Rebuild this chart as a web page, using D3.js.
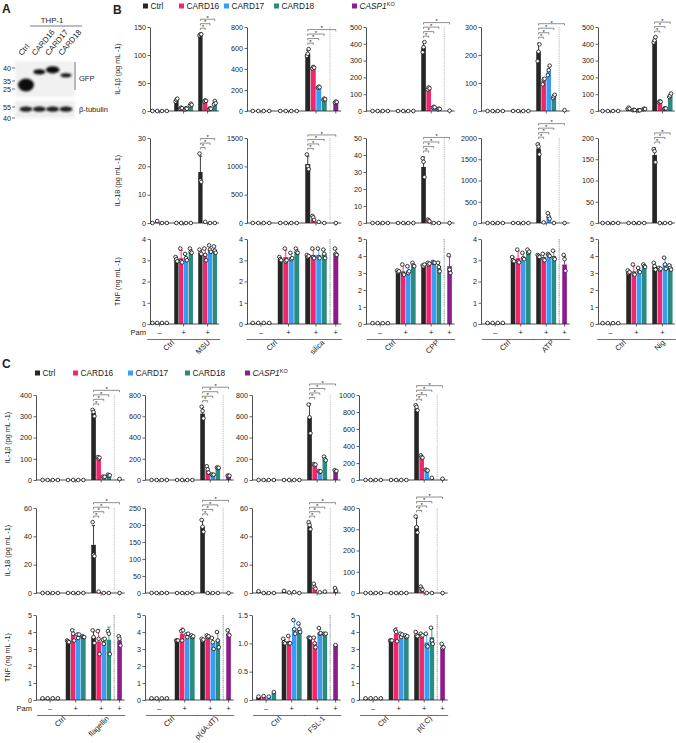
<!DOCTYPE html>
<html><head><meta charset="utf-8">
<script src="https://cdn.jsdelivr.net/npm/d3@7"></script>
<style>
body{margin:0;background:#fff}
svg{display:block}
text{font-family:"Liberation Sans",Arial,Helvetica,sans-serif;fill:#222}
</style>
</head><body>
<svg id="c" width="676" height="743"></svg>
<script>
// ---------------- DATA ----------------
const series = ["Ctrl","CARD16","CARD17","CARD18","CASP1KO"];
const seriesColors = ["#262626","#f2266e","#3a9cf2","#2a8b80","#8c1c8c"];
const groupSigns = ["–","+","+","+"];

// Panel A (western blot)
const blotLanes = ["Ctrl","CARD16","CARD17","CARD18"];
const gfpBandKDa = [30, 38.5, 39.3, 37.2];
const tubBandKDa = [52, 52, 52, 52];
const gfpMarkers = [40, 35, 25];
const tubMarkers = [55, 40];

// Panel B
const bStimuli = ["MSU","silica","CPP","ATP","Nig"];
const bHasKO = [false,true,true,true,false];
const bIL1bTicks = [[0,50,100,150],[0,200,400,600,800],[0,100,200,300,400,500],[0,100,200,300],[0,100,200,300,400,500]];
const bIL18Ticks = [[0,10,20,30],[0,500,1000,1500],[0,10,20,30,40,50],[0,500,1000,1500,2000],[0,50,100,150,200]];
const bTNFTicks = [[0,1,2,3,4],[0,1,2,3,4],[0,1,2,3,4,5],[0,1,2,3,4],[0,1,2,3,4,5]];

const bIL1bMean = [
 [0,0,0,0, 20,5,4,11, 136,18,4,14],
 [0,0,0,0, 0,0,0,0, 545,412,226,112, 85],
 [0,0,0,0, 0,0,0,0, 380,135,22,12, 2],
 [0,0,0,0, 0,0,0,0, 212,108,142,52, 3],
 [0,0,0,0, 15,6,4,12, 420,55,15,90]
];
const bIL1bPts = [
 [[0],[0],[0],[0], [17,20,22],[4,6,5],[3,5,4],[10,13,11], [135,137,137],[17,19,18],[3,5,4],[12,18,14]],
 [[0],[0],[0],[0], [0],[0],[0],[0], [525,545,590],[405,420,412],[222,232,226],[108,118,112],[80,90,85]],
 [[0],[0],[0],[0], [0],[0],[0],[0], [350,380,410],[128,140,135],[20,25,22],[10,14,12],[2]],
 [[0],[0],[0],[0], [0],[0],[0],[0], [178,212,238],[95,112,115],[128,146,162],[46,52,58],[3]],
 [[0],[0],[0],[0], [12,20,14],[5,7,6],[3,5,4],[10,14,12], [408,420,440],[52,58,55],[13,16,15],[84,92,104]]
];
const bIL18Mean = [
 [0,0.5,0,0, 0,0,0,0, 18,0.3,0,0],
 [0,0,0,0, 0,0,0,0, 1040,70,15,0, 0],
 [0,0,0,0, 0,0,0,0, 33,1.5,0,0, 0],
 [0,0,0,0, 0,0,0,0, 1755,15,160,0, 0],
 [0,0,0,0, 0,0,0,0, 160,0,0,0]
];
const bIL18Pts = [
 [[0],[0.7],[0],[0], [0],[0],[0],[0], [24.5,15,14.5],[0.4],[0],[0]],
 [[0],[0],[0],[0], [0],[0],[0],[0], [1210,1000,950],[125,100,55],[20],[0],[0]],
 [[0],[0],[0],[0], [0],[0],[0],[0], [38,36,27],[2,1.5,1],[0],[0],[0]],
 [[0],[0],[0],[0], [0],[0],[0],[0], [1850,1800,1615],[15],[230,150,100],[0],[0]],
 [[0],[0],[0],[0], [0],[0],[0],[0], [174,169,143],[0],[0],[0]]
];
const bTNFMean = [
 [0.05,0.05,0.05,0.05, 3.05,3.1,3.15,3.4, 3.35,3.3,3.5,3.5],
 [0.05,0.05,0.05,0.05, 3.05,3.15,3.15,3.4, 3.2,3.25,3.25,3.3, 3.35],
 [0.05,0.05,0.05,0.05, 3.1,3.1,3.15,3.4, 3.45,3.55,3.6,3.4, 3.4],
 [0.05,0.05,0.05,0.05, 3.05,3.1,3.15,3.4, 3.2,3.15,3.25,3.2, 2.8],
 [0.05,0.05,0.05,0.05, 3.1,3.1,3.15,3.4, 3.4,3.25,3.55,3.35]
];
const bTNFPts = [
 [[0.05],[0.05],[0.05],[0.05], [3.15,3.05,2.95],[3.55,2.95,2.9],[3.3,3.1,3.0],[3.55,3.4,3.35], [3.5,3.35,3.3],[3.55,3.25,3.0],[3.7,3.5,3.4],[3.65,3.45,3.35]],
 [[0.05],[0.05],[0.05],[0.05], [3.15,3.05,3.0],[3.55,2.95,3.0],[3.35,3.05,3.1],[3.55,3.4,3.35], [3.25,3.15,3.2],[3.55,3.15,3.1],[3.55,3.15,3.1],[3.5,3.3,3.1], [3.55,3.3,3.25]],
 [[0.05],[0.05],[0.05],[0.05], [3.15,3.05,3.1],[3.5,2.95,2.9],[3.4,3.0,3.1],[3.6,3.45,3.4], [3.45,3.4,3.5],[3.6,3.5,3.55],[3.65,3.6,3.6],[3.6,3.35,3.1], [4.05,3.2,3.0]],
 [[0.05],[0.05],[0.05],[0.05], [3.15,3.0,2.95],[3.5,2.95,2.9],[3.35,3.1,3.05],[3.5,3.35,3.4], [3.25,3.2,3.15],[3.3,3.05,3.0],[3.3,3.25,3.2],[3.45,3.1,3.05], [3.25,3.05,2.5]],
 [[0.05],[0.05],[0.05],[0.05], [3.15,3.0,3.05],[3.5,2.95,2.9],[3.3,3.1,3.05],[3.5,3.4,3.35], [3.6,3.4,3.2],[3.3,3.2,3.25],[3.9,3.5,3.25],[3.45,3.3,3.2]]
];

// Panel C
const cStimuli = ["flagellin","p(dA:dT)","FSL-1","p(I:C)"];
const cHasKO = [true,true,true,true];
const cIL1bTicks = [[0,100,200,300,400],[0,200,400,600,800],[0,200,400,600,800],[0,200,400,600,800,1000]];
const cIL18Ticks = [[0,20,40,60],[0,50,100,150,200,250],[0,20,40,60],[0,100,200,300,400]];
const cTNFTicks = [[0,1,2,3,4,5],[0,1,2,3,4,5],[0,0.5,1.0,1.5],[0,1,2,3,4,5]];

const cIL1bMean = [
 [0,0,0,0, 0,0,0,0, 315,105,15,22, 5],
 [0,0,0,0, 0,0,0,0, 625,90,50,115, 40],
 [0,0,0,0, 0,0,0,0, 585,145,80,200, 85],
 [0,0,0,0, 0,0,0,0, 840,265,115,25, 15]
];
const cIL1bPts = [
 [[0],[0],[0],[0], [0],[0],[0],[0], [330,320,300],[108,100,105],[16,12,15],[25,20,22],[5]],
 [[0],[0],[0],[0], [0],[0],[0],[0], [690,650,580],[130,100,70],[52,45,50],[118,112,115],[42,36,40]],
 [[0],[0],[0],[0], [0],[0],[0],[0], [710,590,440],[150,140,145],[85,75,80],[220,195,185],[92,80,85]],
 [[0],[0],[0],[0], [0],[0],[0],[0], [880,860,820],[290,270,262],[122,115,112],[25],[15]]
];
const cIL18Mean = [
 [0,0,0,0, 0,0,0,0, 34,1,0,0, 0],
 [0,0,0,0, 0,0,0,0, 195,0,0,0, 0],
 [1,0,0,0, 1.2,0.3,0.5,0, 47,4,0.5,1, 2],
 [0,0,0,0, 0,0,0,0, 315,20,0,0, 0]
];
const cIL18Pts = [
 [[0],[0],[0],[0], [0],[0],[0],[0], [50,27,26],[1],[0],[0],[0]],
 [[0],[0],[0],[0], [0],[0],[0],[0], [215,195,180],[0],[0],[0],[0]],
 [[1.3],[0],[0],[0], [1.5],[0.3],[0.6],[0], [50,48,45],[6.5,4,3],[0.5],[1],[3.5,1.5]],
 [[0],[0],[0],[0], [0],[0],[0],[0], [360,310,285],[30,20,15],[0],[0],[0]]
];
const cTNFMean = [
 [0.1,0.1,0.1,0.1, 3.45,3.85,3.8,3.7, 3.7,3.45,3.5,3.55, 3.5],
 [0.1,0.1,0.1,0.1, 3.5,3.9,3.85,3.75, 3.55,3.75,3.35,3.55, 3.9],
 [0.05,0.06,0.06,0.13, 1.03,1.04,1.27,1.25, 1.1,1.02,1.19,1.17, 0.97],
 [0.1,0.1,0.1,0.1, 3.5,3.9,3.85,3.75, 3.85,3.8,3.4,3.7, 3.1]
];
const cTNFPts = [
 [[0.1],[0.1],[0.1],[0.1], [3.5,3.45,3.4],[4.1,3.9,3.5],[3.85,3.65,3.85],[3.75,3.7,3.7], [4.1,3.7,3.35],[4.05,3.6,2.7],[3.55,3.3,3.6],[4.05,3.9,2.7], [3.75,3.6,3.2]],
 [[0.1],[0.1],[0.1],[0.1], [3.5,3.5,3.5],[4.05,3.5,4.1],[3.85,3.7,3.9],[3.8,3.7,3.75], [3.6,3.5,3.55],[3.8,3.7,3.75],[3.65,3.4,3.0],[4.0,3.5,3.1], [4.1,3.85,3.8]],
 [[0.06],[0.07],[0.06],[0.14], [1.08,1.02,1.0],[1.13,1.0,1.0],[1.41,1.25,1.17],[1.35,1.25,1.2], [1.1,1.1,1.09],[1.1,1.0,0.93],[1.27,1.17,1.18],[1.17,1.16,1.17], [0.97]],
 [[0.1],[0.1],[0.1],[0.1], [3.5,3.5,3.5],[4.1,4.0,3.45],[3.9,3.7,3.85],[3.8,3.7,3.75], [4.0,3.8,3.75],[3.9,3.75,3.8],[3.9,3.2,3.15],[4.25,3.5,3.3], [3.3,3.05,3.1]]
];

const rowTitles = ["IL-1β (pg mL -1)","IL-18 (pg mL -1)","TNF (ng mL -1)"];

// ---------------- LAYOUT ----------------
const svg = d3.select("#c");
const LB = {x0s:[150,247,366,481,598], offs:[0,3,4,4,2], units:[4.8,5.5,5.1,5.1,5.2],
            rows:[[27,111],[138,223],[239,324]], titleX:120, legendY:6, legendXs:[143,179,224,274,352]};
const LC = {x0s:[36,145,252,359], offs:[4,4,4,4], units:[5.1,5.1,5.1,5.1],
            rows:[[395,480],[508,593],[615,700]], titleX:10, legendY:373, legendXs:[35,73,128,185,245]};

function slotU(k){ return k < 12 ? Math.floor(k/4)*5 + k%4 : 15.1; }

function drawPanel(p){
  const g = svg.append("g");
  const x = d3.scaleLinear().domain([0,1]).range([p.x0+p.off, p.x0+p.off+p.unit]);
  const yMax = d3.max(p.ticks);
  const y = d3.scaleLinear().domain([0,yMax]).range([p.yb, p.yt]);
  const bw = p.unit*0.9;
  const endU = p.hasKO ? 16.6 : 14.4;
  const data = p.mean.map((m,k)=>{
    const pts = p.pts[k];
    const sd = pts.length > 1 ? d3.deviation(pts) : 0;
    return {k, m, pts, sd, s: k<12 ? k%4 : 4, u: slotU(k)};
  });
  // separator
  if(p.hasKO){
    g.append("line").attr("x1",x(14.55)).attr("x2",x(14.55))
     .attr("y1",y(yMax)).attr("y2",y(0))
     .attr("stroke","#a8a8a8").attr("stroke-width",p.row===2?1.2:0.8)
     .attr("stroke-dasharray",p.row===2?"1.2,0.6":"1,0.8");
  }
  // bars
  g.selectAll("rect.bar").data(data).join("rect")
   .attr("x",d=>x(d.u)+ (p.unit-bw)/2).attr("width",bw)
   .attr("y",d=>y(d.m)).attr("height",d=>Math.max(0,y(0)-y(d.m)))
   .attr("fill",d=>seriesColors[d.s]);
  // error bars
  const eb = data.filter(d=>d.sd>0);
  g.selectAll("line.eb").data(eb).join("line")
   .attr("x1",d=>x(d.u+0.5)).attr("x2",d=>x(d.u+0.5))
   .attr("y1",d=>y(d.m)).attr("y2",d=>y(d.m+d.sd))
   .attr("stroke",d=>seriesColors[d.s]).attr("stroke-width",0.9);
  g.selectAll("line.cap").data(eb).join("line")
   .attr("x1",d=>x(d.u+0.5)-1.6).attr("x2",d=>x(d.u+0.5)+1.6)
   .attr("y1",d=>y(d.m+d.sd)).attr("y2",d=>y(d.m+d.sd))
   .attr("stroke",d=>seriesColors[d.s]).attr("stroke-width",0.9);
  // points
  const jit = n => n===1?[0]:n===2?[-0.6,0.6]:[-0.9,0,0.9];
  const pd = [];
  data.forEach(d=>{ const j=jit(d.pts.length); d.pts.forEach((v,i)=>pd.push({u:d.u,v,j:j[i]})); });
  // x axis baseline
  g.append("line").attr("x1",p.x0).attr("x2",x(endU)).attr("y1",y(0)).attr("y2",y(0))
   .attr("stroke","#222").attr("stroke-width",0.8);
  const centers = [2,7,12].map(c=>x(c)); if(p.hasKO) centers.push(x(15.6));
  g.selectAll("line.gt").data(centers).join("line")
   .attr("x1",d=>d).attr("x2",d=>d).attr("y1",y(0)).attr("y2",y(0)+2.5)
   .attr("stroke","#222").attr("stroke-width",0.7);
  g.selectAll("circle").data(pd).join("circle")
   .attr("cx",d=>x(d.u+0.5)+d.j).attr("cy",d=>y(d.v)).attr("r",1.8)
   .attr("fill","#fff").attr("stroke","#1a1a1a").attr("stroke-width",0.85);
  // y axis
  const nonInt = p.ticks.some(t=>!Number.isInteger(t));
  const ax = d3.axisLeft(y).tickValues(p.ticks).tickSize(2.5).tickSizeOuter(0).tickPadding(1.5)
     .tickFormat(d=> d===0 ? "0" : (nonInt ? d3.format(".1f")(d) : String(d)));
  const ag = g.append("g").attr("transform",`translate(${p.x0},0)`).call(ax);
  ag.select(".domain").attr("stroke","#222").attr("stroke-width",0.8);
  ag.selectAll(".tick line").attr("stroke","#222").attr("stroke-width",0.7);
  ag.selectAll(".tick text").attr("font-size",7.2).attr("fill","#222")
    .attr("font-family","'Liberation Sans',Arial,sans-serif");
  // significance brackets
  if(p.row < 2){
    const tgt = p.hasKO ? [9,10,11,12] : [9,10,11];
    const sub = data.filter(d=>d.k>=8);
    const top = d3.max(sub, d=>Math.max(d.m+d.sd, d3.max(d.pts)));
    const base = y(top) - 6;
    tgt.forEach((k,j)=>{
      const yy = base - j*4.5;
      const x1 = x(slotU(8)+0.5), x2 = x(slotU(k)+0.5);
      g.append("path").attr("d",`M${x1},${yy+1.8}V${yy}H${x2}V${yy+1.8}`)
       .attr("fill","none").attr("stroke","#444").attr("stroke-width",0.6);
      g.append("text").attr("x",(x1+x2)/2).attr("y",yy+0.8).attr("text-anchor","middle")
       .attr("font-size",6).text("*");
    });
  }
  // bottom labels for TNF row
  if(p.row === 2){
    const sy = y(0)+11;
    centers.forEach((c,i)=>{
      g.append("text").attr("x",c).attr("y",sy).attr("text-anchor","middle")
       .attr("font-size",7.5).text(groupSigns[i]);
    });
    if(p.first){
      g.append("text").attr("x",p.x0-4).attr("y",sy).attr("text-anchor","end")
       .attr("font-size",7.5).text("Pam");
    }
    const ly = y(0)+15.5;
    const spans = [[x(-0.6),x(9.6),"Ctrl"],[x(9.4),x(p.hasKO?16.7:14.6),p.stim]];
    spans.forEach(s=>{
      g.append("line").attr("x1",s[0]).attr("x2",s[1]).attr("y1",ly).attr("y2",ly)
       .attr("stroke","#333").attr("stroke-width",0.7);
      const cx = (s[0]+s[1])/2 + 3;
      g.append("text").attr("transform",`translate(${cx},${ly+3.5}) rotate(-45)`)
       .attr("text-anchor","end").attr("font-size",7.5).text(s[2]);
    });
  }
}

function drawSection(L, stimuli, hasKO, means, pts, ticks){
  for(let r=0;r<3;r++){
    for(let c=0;c<stimuli.length;c++){
      drawPanel({x0:L.x0s[c], off:L.offs[c], unit:L.units[c], yt:L.rows[r][0], yb:L.rows[r][1],
        ticks:ticks[r][c], mean:means[r][c], pts:pts[r][c], hasKO:hasKO[c], row:r,
        stim:stimuli[c], first:c===0});
    }
    const mid = (L.rows[r][0]+L.rows[r][1])/2;
    svg.append("text").attr("transform",`translate(${L.titleX},${mid}) rotate(-90)`)
      .attr("text-anchor","middle").attr("font-size",7.2).text(rowTitles[r]);
  }
  // legend
  series.forEach((s,i)=>{
    const lx = L.legendXs[i];
    svg.append("rect").attr("x",lx).attr("y",L.legendY-2.5).attr("width",5).attr("height",5)
      .attr("fill",seriesColors[i]);
    const t = svg.append("text").attr("x",lx+7.5).attr("y",L.legendY+3).attr("font-size",8.3);
    if(s==="CASP1KO"){
      t.append("tspan").attr("font-style","italic").text("CASP1");
      t.append("tspan").attr("font-size",5.5).attr("dy",-3.2).text("KO");
    } else t.text(s);
  });
}

drawSection(LB, bStimuli, bHasKO, [bIL1bMean,bIL18Mean,bTNFMean], [bIL1bPts,bIL18Pts,bTNFPts], [bIL1bTicks,bIL18Ticks,bTNFTicks]);
drawSection(LC, cStimuli, cHasKO, [cIL1bMean,cIL18Mean,cTNFMean], [cIL1bPts,cIL18Pts,cTNFPts], [cIL1bTicks,cIL18Ticks,cTNFTicks]);

// panel letters
[["A",2,13],["B",113,14],["C",2,368]].forEach(d=>{
  svg.append("text").attr("x",d[1]).attr("y",d[2]).attr("font-size",12).attr("font-weight","bold").attr("fill","#000").text(d[0]);
});

// ---------------- Panel A: blot ----------------
const defs = svg.append("defs");
defs.append("filter").attr("id","blur").attr("x","-50%").attr("y","-50%").attr("width","200%").attr("height","200%")
  .append("feGaussianBlur").attr("stdDeviation",0.9);
defs.append("filter").attr("id","blur2").attr("x","-20%").attr("y","-20%").attr("width","140%").attr("height","140%")
  .append("feGaussianBlur").attr("stdDeviation",1.5);
const laneX = d3.scalePoint().domain(blotLanes).range([26,66]);
const gfpY = d3.scaleLinear().domain([40,35,25]).range([68,81,89]);
const tubY = d3.scaleLinear().domain([55,40]).range([107,118]);
const A = svg.append("g");
// membranes
A.append("rect").attr("x",15).attr("y",61).attr("width",60).attr("height",36).attr("fill","#f1f1f1").attr("filter","url(#blur2)");
A.append("rect").attr("x",15).attr("y",101).attr("width",60).attr("height",17).attr("fill","#eeeeee").attr("filter","url(#blur2)");
const gfpBandStyle = [{rx:8,ry:6.5},{rx:6,ry:2.6},{rx:6.8,ry:3.6},{rx:5.6,ry:2.0}];
A.selectAll("ellipse.gfp").data(blotLanes).join("ellipse")
  .attr("cx",(d,i)=>laneX(d)).attr("cy",(d,i)=>gfpY(gfpBandKDa[i]))
  .attr("rx",(d,i)=>gfpBandStyle[i].rx).attr("ry",(d,i)=>gfpBandStyle[i].ry)
  .attr("fill","#111").attr("filter","url(#blur)");
A.selectAll("ellipse.tub").data(blotLanes).join("ellipse")
  .attr("cx",d=>laneX(d)).attr("cy",(d,i)=>tubY(tubBandKDa[i]))
  .attr("rx",6.3).attr("ry",2.6).attr("fill","#1a1a1a").attr("filter","url(#blur)");
// markers
gfpMarkers.forEach(m=>{
  A.append("text").attr("x",11).attr("y",gfpY(m)+2.5).attr("text-anchor","end").attr("font-size",7.2).text(m);
  A.append("line").attr("x1",12).attr("x2",15).attr("y1",gfpY(m)).attr("y2",gfpY(m)).attr("stroke","#333").attr("stroke-width",0.7);
});
tubMarkers.forEach(m=>{
  A.append("text").attr("x",11).attr("y",tubY(m)+2.5).attr("text-anchor","end").attr("font-size",7.2).text(m);
  A.append("line").attr("x1",12).attr("x2",15).attr("y1",tubY(m)).attr("y2",tubY(m)).attr("stroke","#333").attr("stroke-width",0.7);
});
// labels
A.append("line").attr("x1",75).attr("x2",75).attr("y1",62).attr("y2",90).attr("stroke","#555").attr("stroke-width",0.8);
A.append("text").attr("x",79).attr("y",81).attr("font-size",7.5).text("GFP");
A.append("text").attr("x",79).attr("y",112).attr("font-size",7.5).text("β-tubulin");
A.append("text").attr("x",52).attr("y",23).attr("text-anchor","middle").attr("font-size",7.8).text("THP-1");
A.append("line").attr("x1",30).attr("x2",82).attr("y1",26).attr("y2",26).attr("stroke","#444").attr("stroke-width",0.7);
A.selectAll("text.lane").data(blotLanes).join("text")
  .attr("transform",d=>`translate(${laneX(d)-4},56) rotate(-50)`)
  .attr("font-size",7.8).text(d=>d);
</script>
</body></html>
